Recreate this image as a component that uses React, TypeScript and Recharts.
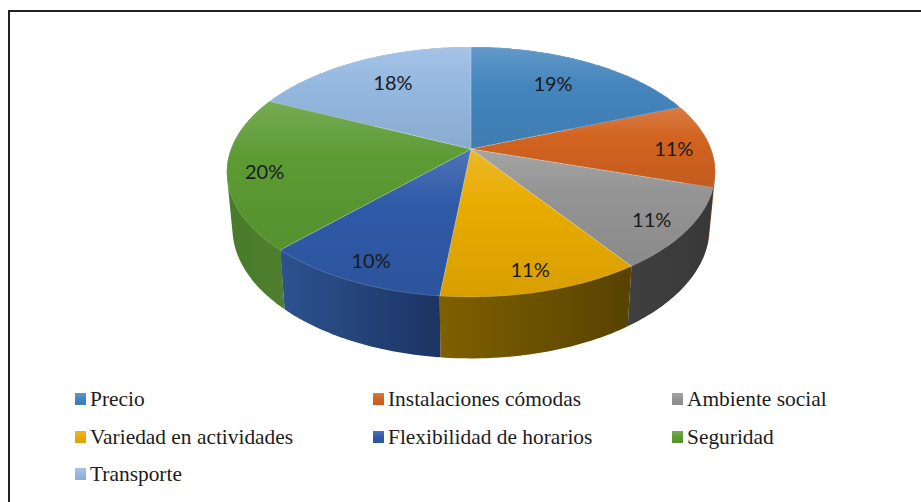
import { Legend, Pie, PieChart } from "recharts";

const categories = [
  "Precio",
  "Instalaciones cómodas",
  "Ambiente social",
  "Variedad en actividades",
  "Flexibilidad de horarios",
  "Seguridad",
  "Transporte",
];
const shares = [19, 10.9, 10.5, 11.3, 10.4, 19.9, 18];
const colors = ["#4485bd", "#d26320", "#949494", "#e8ab00", "#2f5aa8", "#5c9b33", "#94b8e0"];
const wallLeft = ["#2a5680", "#8a4515", "#404040", "#7f6000", "#2d5290", "#487c29", "#6a88a8"];
const wallRight = ["#2a5680", "#7a3c10", "#383838", "#574200", "#1c3463", "#4f7f2e", "#6a88a8"];

const WIDTH = 921;
const HEIGHT = 502;
const CX = 471;
const CY = 149;
const RADIUS = 240;

// perspective of the tilted disc
const TILT = 0.184;
const SQUASH = 0.503;
const BASE_WIDTH = 0.977;
const BASE_SQUASH = 0.525;
const BASE_DROP = 55;

const data = categories.map((name, i) => ({ name, value: shares[i], fill: colors[i] }));

const RAD = Math.PI / 180;

// recharts angles: 90 is the top, going clockwise as the angle falls
function project(angle: number, r: number, cx: number, cy: number) {
  const u = Math.cos(angle * RAD) * r;
  const v = Math.sin(angle * RAD) * r;
  const d = 1 + (TILT * v) / RADIUS;
  return [cx + u / d, cy - (v * SQUASH) / d];
}

function projectBase(angle: number, r: number, cx: number, cy: number) {
  const d = 1 + TILT * Math.sin(angle * RAD);
  return [
    cx + (r * BASE_WIDTH * Math.cos(angle * RAD)) / d,
    cy + BASE_DROP - (r * BASE_SQUASH * Math.sin(angle * RAD)) / d,
  ];
}

function sweep(start: number, end: number, at: (a: number) => number[]) {
  const steps = Math.max(2, Math.ceil(Math.abs(end - start)));
  const pts = [];
  for (let i = 0; i <= steps; i++) pts.push(at(start + ((end - start) * i) / steps));
  return pts;
}

const toPath = (pts: number[][]) =>
  pts.map((p, i) => `${i ? "L" : "M"}${p[0].toFixed(2)} ${p[1].toFixed(2)}`).join(" ") + " Z";

// the wall's outline includes the tangents between rim and base
function hull(points: number[][]) {
  const pts = [...points].sort((a, b) => a[0] - b[0] || a[1] - b[1]);
  const cross = (o: number[], a: number[], b: number[]) =>
    (a[0] - o[0]) * (b[1] - o[1]) - (a[1] - o[1]) * (b[0] - o[0]);
  const half = (list: number[][]) => {
    const out: number[][] = [];
    for (const p of list) {
      while (out.length > 1 && cross(out[out.length - 2], out[out.length - 1], p) <= 0) out.pop();
      out.push(p);
    }
    out.pop();
    return out;
  };
  return [...half(pts), ...half([...pts].reverse())];
}

function mix(hex: string, target: number, t: number) {
  const n = parseInt(hex.slice(1), 16);
  const ch = (s: number) => Math.round(((n >> s) & 255) * (1 - t) + target * t);
  return `rgb(${ch(16)},${ch(8)},${ch(0)})`;
}

function TopFace(props: any) {
  const { cx, cy, outerRadius, startAngle, endAngle, index } = props;
  const rim = sweep(startAngle, endAngle, (a) => project(a, outerRadius, cx, cy));
  return (
    <path
      d={toPath([[cx, cy], ...rim])}
      fill={`url(#top${index})`}
      stroke="#ffffff"
      strokeOpacity={0.25}
      strokeWidth={0.7}
    />
  );
}

function Wall(props: any) {
  const { cx, cy, outerRadius, startAngle, endAngle, index } = props;
  const rim = sweep(startAngle, endAngle, (a) => project(a, outerRadius, cx, cy));
  const base = sweep(startAngle, endAngle, (a) => projectBase(a, outerRadius, cx, cy));
  return <path d={toPath(hull([...rim, ...base]))} fill={`url(#wall${index})`} />;
}

function sliceLabel(props: any) {
  const { cx, cy, outerRadius, midAngle, value } = props;
  const back = Math.sin(midAngle * RAD) > 0.5;
  const [x, y] = project(midAngle, outerRadius * (back ? 0.67 : 0.85), cx, cy);
  return (
    <text
      x={x}
      y={y + (back ? -5 : 2.5)}
      textAnchor="middle"
      dominantBaseline="central"
      fill="#1a1a1a"
      fontFamily="Lato, sans-serif"
      fontSize={20}
    >
      {Math.round(value)}%
    </text>
  );
}

function LegendGrid() {
  return (
    <div style={{ position: "relative", width: WIDTH, height: 119 }}>
      {categories.map((name, i) => (
        <div
          key={name}
          style={{
            position: "absolute",
            left: [75, 373, 672][i % 3],
            top: 3 + Math.floor(i / 3) * 37.5,
            display: "flex",
            alignItems: "center",
            whiteSpace: "nowrap",
            fontFamily: "'Liberation Serif', serif",
            fontSize: 21.4,
            lineHeight: "26px",
            color: "#1c1c1c",
          }}
        >
          <span
            style={{
              width: 11,
              height: 12,
              marginRight: 4,
              background: `linear-gradient(${mix(colors[i], 255, 0.16)}, ${colors[i]} 50%, ${mix(colors[i], 0, 0.06)})`,
            }}
          />
          {name}
        </div>
      ))}
    </div>
  );
}

export default function App() {
  return (
    <div style={{ position: "absolute", left: 0, top: 0, width: WIDTH, height: HEIGHT, background: "#fff", overflow: "hidden" }}>
      <div
        style={{
          position: "absolute",
          left: 8,
          top: 10,
          width: 940,
          height: 520,
          border: "2px solid #222",
          boxSizing: "border-box",
        }}
      />
      <PieChart width={WIDTH} height={HEIGHT} margin={{ top: 0, right: 0, bottom: 0, left: 0 }}>
        <defs>
          {colors.map((c, i) => (
            <linearGradient key={c} id={`top${i}`} x1="0" y1="0" x2="0" y2="1">
              <stop offset="0" stopColor={mix(c, 255, 0.16)} />
              <stop offset="0.38" stopColor={c} />
              <stop offset="1" stopColor={mix(c, 0, 0.07)} />
            </linearGradient>
          ))}
          {colors.map((c, i) => (
            <linearGradient key={c} id={`wall${i}`} x1="0" y1="0" x2="1" y2="0">
              <stop offset="0" stopColor={wallLeft[i]} />
              <stop offset="1" stopColor={wallRight[i]} />
            </linearGradient>
          ))}
        </defs>
        <Pie
          data={data}
          dataKey="value"
          nameKey="name"
          cx={CX}
          cy={CY}
          outerRadius={RADIUS}
          startAngle={90}
          endAngle={-270}
          paddingAngle={0}
          stroke="none"
          legendType="none"
          shape={Wall}
          isAnimationActive={false}
        />
        <Pie
          data={data}
          dataKey="value"
          nameKey="name"
          cx={CX}
          cy={CY}
          outerRadius={RADIUS}
          startAngle={90}
          endAngle={-270}
          paddingAngle={0}
          stroke="none"
          shape={TopFace}
          label={sliceLabel}
          labelLine={false}
          isAnimationActive={false}
        />
        <Legend
          layout="horizontal"
          wrapperStyle={{ position: "absolute", left: 0, top: 383, width: WIDTH, height: 119 }}
          content={LegendGrid}
        />
      </PieChart>
    </div>
  );
}
